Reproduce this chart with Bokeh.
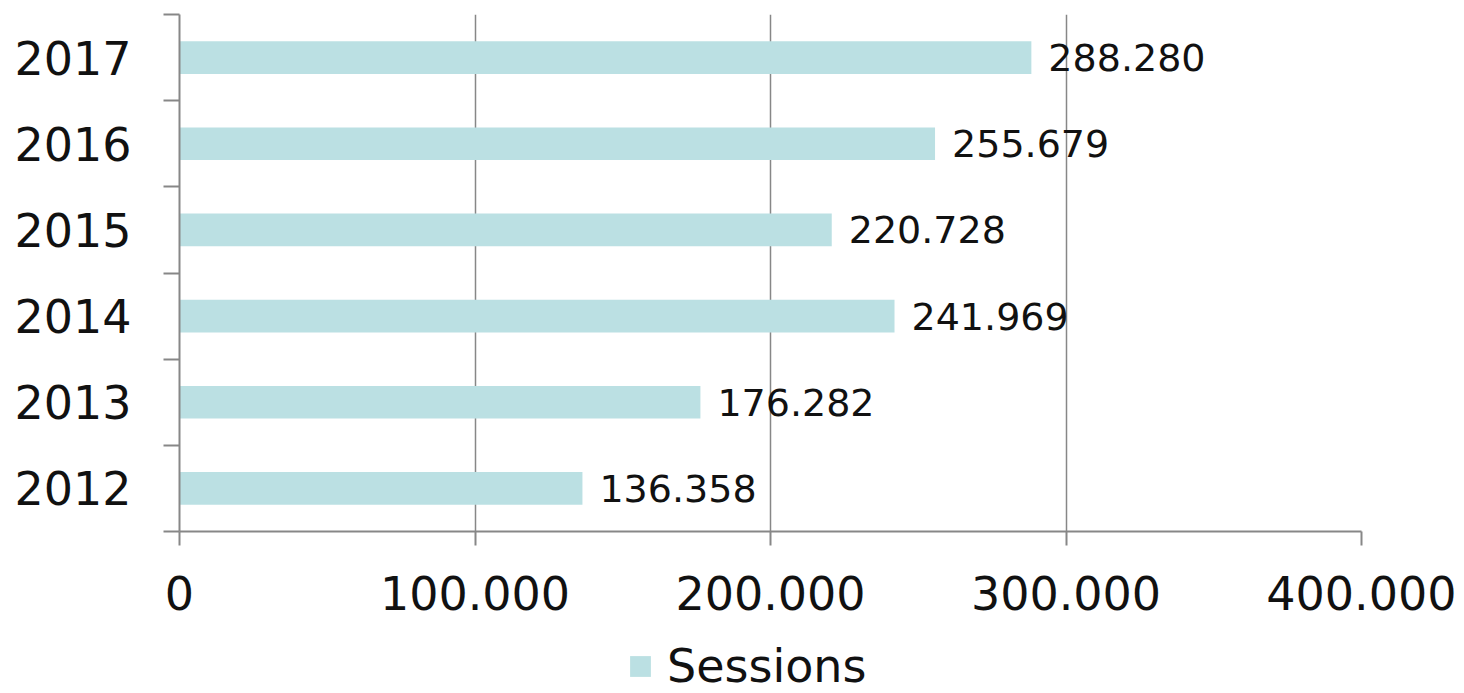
from bokeh.plotting import figure
from bokeh.layouts import column
from bokeh.models import (Range1d, FixedTicker, Legend, LegendItem, ColumnDataSource,
                          CustomJSTickFormatter, LabelSet)
from bokeh.core.properties import value
from bokeh.embed import file_html
from bokeh.resources import INLINE

years = ["2012", "2013", "2014", "2015", "2016", "2017"]
sessions = [136358, 176282, 241969, 220728, 255679, 288280]
x_ticks = [0, 100000, 200000, 300000, 400000]
series_name = "Sessions"

FONT = "DejaVu Sans"
GREY = "#878787"
BAR = "#BBE0E3"

ypos = [i + 0.5 for i in range(len(years))]
labels = [f"{v:,}".replace(",", ".") for v in sessions]
src = ColumnDataSource(dict(y=ypos, v=sessions, lab=labels))

p = figure(frame_width=1182, frame_height=517,
           x_range=Range1d(0, 400000), y_range=Range1d(0, len(years)),
           output_backend="svg", toolbar_location=None,
           min_border_left=179, min_border_right=95, min_border_top=14, min_border_bottom=105)
p.outline_line_color = None
p.background_fill_color = "white"

r = p.hbar(y="y", right="v", left=0, height=0.38, source=src,
           fill_color=BAR, line_color=None)

lbl = LabelSet(x="v", y="y", text="lab", source=src, x_offset=17,
               text_align="left", text_baseline="middle",
               text_font=value(FONT), text_font_size=value("38px"), text_color="#111111")
p.add_layout(lbl)

# x axis
p.xaxis.ticker = FixedTicker(ticks=x_ticks, minor_ticks=[])
p.xaxis.formatter = CustomJSTickFormatter(code="""
return tick.toFixed(0).replace(/\\B(?=(\\d{3})+(?!\\d))/g, ".");
""")
p.xaxis.axis_line_color = GREY
p.xaxis.axis_line_width = 2
p.xaxis.major_tick_line_color = GREY
p.xaxis.major_tick_line_width = 2
p.xaxis.major_tick_out = 14
p.xaxis.major_tick_in = 0
p.xaxis.minor_tick_line_color = None
p.xaxis.major_label_text_font = FONT
p.xaxis.major_label_text_font_size = "46px"
p.xaxis.major_label_text_color = "#111111"
p.xaxis.major_label_standoff = 30

# y axis: labels at centers, ticks at boundaries
p.yaxis.ticker = FixedTicker(ticks=ypos, minor_ticks=list(range(len(years) + 1)))
p.yaxis.major_label_overrides = {y: t for y, t in zip(ypos, years)}
p.yaxis.axis_line_color = GREY
p.yaxis.axis_line_width = 2
p.yaxis.major_tick_line_color = None
p.yaxis.major_tick_out = 16
p.yaxis.major_tick_in = 0
p.yaxis.minor_tick_line_color = GREY
p.yaxis.minor_tick_line_width = 2
p.yaxis.minor_tick_out = 16
p.yaxis.minor_tick_in = 0
p.yaxis.major_label_text_font = FONT
p.yaxis.major_label_text_font_size = "46px"
p.yaxis.major_label_text_color = "#111111"
p.yaxis.major_label_standoff = 32

p.ygrid.grid_line_color = None
p.xgrid.ticker = FixedTicker(ticks=x_ticks[1:])
p.xgrid.grid_line_color = GREY
p.xgrid.grid_line_width = 1.5

# legend strip below the chart (same series; its bars lie outside this strip's view)
lg = figure(width=1456, height=57, x_range=Range1d(0, 400000), y_range=Range1d(100, 101),
            output_backend="svg", toolbar_location=None,
            x_axis_location=None, y_axis_location=None, min_border=0)
lg.outline_line_color = None
lg.xgrid.visible = False
lg.ygrid.visible = False
rl = lg.hbar(y="y", right="v", left=0, height=0.38, source=src,
             fill_color=BAR, line_color=None)
legend = Legend(items=[LegendItem(label=series_name, renderers=[rl])],
                orientation="horizontal", location=(448, 0),
                glyph_width=26, glyph_height=26, label_standoff=14,
                label_text_font=FONT, label_text_font_size="46px",
                label_text_color="#111111", border_line_color=None,
                background_fill_alpha=0, padding=0, margin=0, spacing=0)
lg.add_layout(legend, "center")

layout = column(p, lg, spacing=0)
open("out.html", "w").write(file_html(layout, INLINE))
